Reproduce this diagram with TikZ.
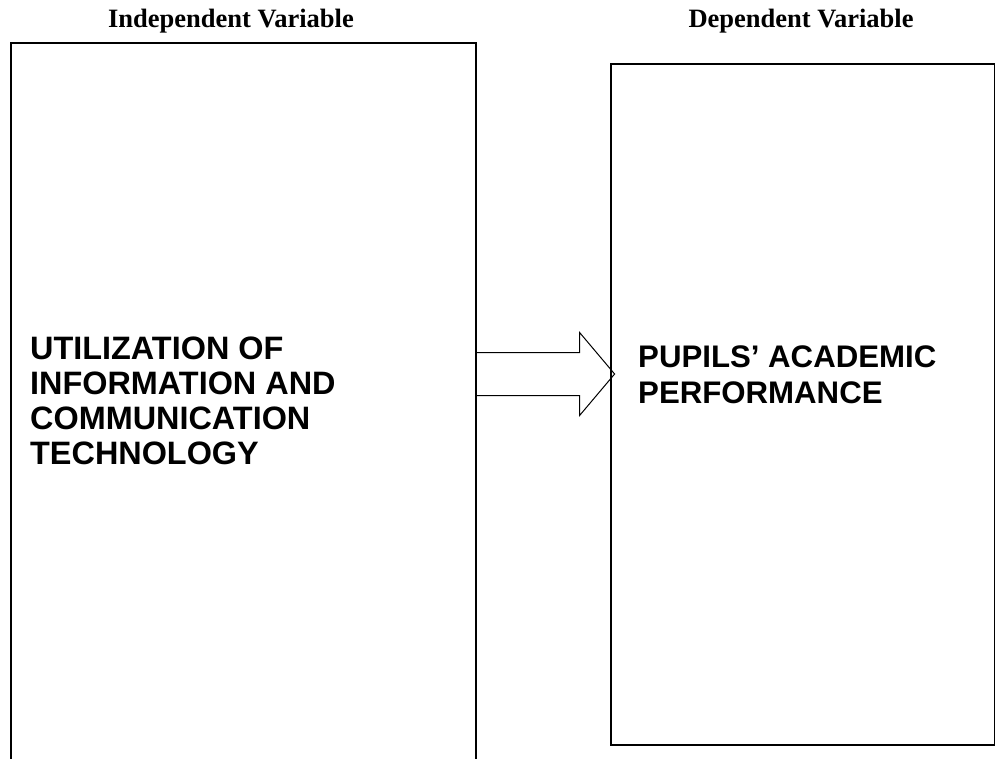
\documentclass[tikz,border=0pt]{standalone}
\usepackage{fontspec}
\setmainfont{Liberation Serif}
\newfontfamily\arialfont{Liberation Sans}
\usetikzlibrary{positioning}
\tikzstyle{varbox} = [rectangle, draw=black, line width=1.6pt, inner sep=0pt, anchor=north west]
\tikzstyle{heading} = [font=\bfseries\fontsize{26.5}{30}\selectfont, anchor=base, inner sep=0pt]
\tikzstyle{boxtext} = [font=\arialfont\bfseries\fontsize{32.4}{35}\selectfont, align=left, anchor=north west, inner sep=0pt]
\tikzstyle{blockarrow} = [draw=black, line width=1pt, line join=miter]

\begin{document}
\begin{tikzpicture}[x=1pt, y=-1pt]
    \clip (0,0) rectangle (995,758);
    \fill [white] (0,0) rectangle (995,758);

    % the two variable boxes
    \node (indep) [varbox, minimum width=465pt, minimum height=740pt] at (10,42) {};
    \node (depd) [varbox, minimum width=384pt, minimum height=681pt] at (610,63) {};

    % headings above the boxes
    \node (indephead) [heading] at (231,27) {Independent Variable};
    \node (depdhead) [heading] at (801,27) {Dependent Variable};

    % box contents
    \node (indeptext) [boxtext] at (30,337) {UTILIZATION OF\\INFORMATION AND\\COMMUNICATION\\TECHNOLOGY};
    \node (depdtext) [boxtext, font=\arialfont\bfseries\fontsize{31.2}{36}\selectfont] at (638,346) {PUPILS’ ACADEMIC\\PERFORMANCE};

    % block arrow from one box to the other
    \coordinate (tail) at (indep.north east |- 0,374);
    \draw [blockarrow] (tail) ++(0,-21.5) -- ++(103,0) -- ++(0,-20) -- ++(35,41.5)
        -- ++(-35,41.5) -- ++(0,-20) -- ++(-103,0);
\end{tikzpicture}
\end{document}
